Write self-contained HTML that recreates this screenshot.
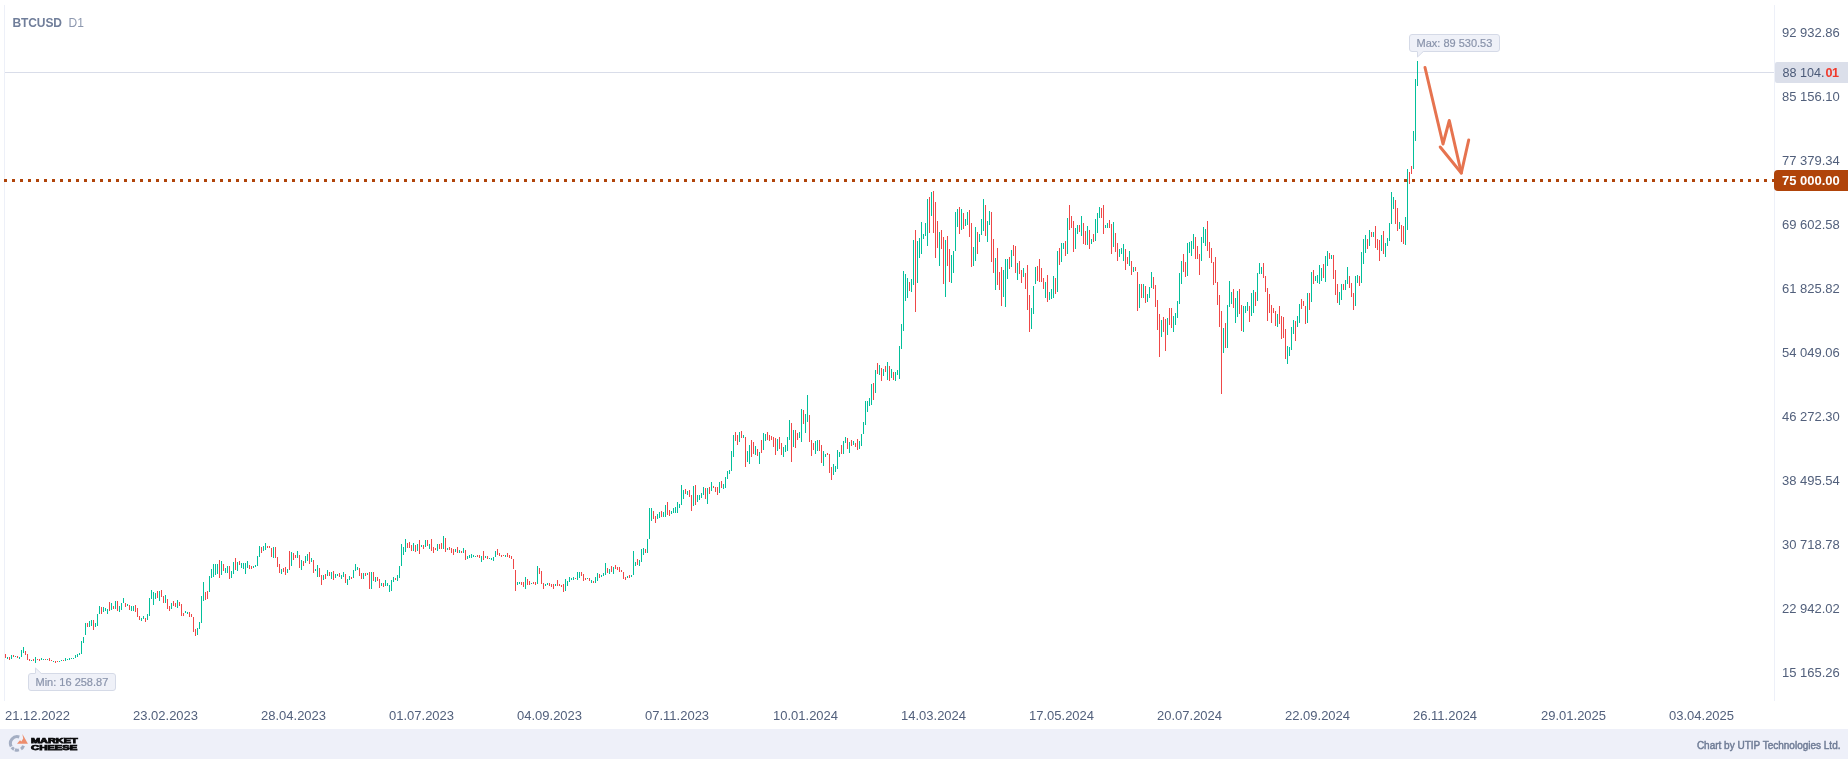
<!DOCTYPE html>
<html><head><meta charset="utf-8"><title>BTCUSD D1</title>
<style>
html,body{margin:0;padding:0;background:#fff;}
body{width:1848px;height:759px;position:relative;overflow:hidden;font-family:"Liberation Sans",sans-serif;}
.abs{position:absolute;}
.yl{position:absolute;left:1782px;width:66px;height:16px;line-height:16px;font-size:13px;color:#52607c;white-space:nowrap;}
.xl{position:absolute;top:708px;height:16px;line-height:16px;font-size:13px;color:#52607c;white-space:nowrap;}
.lg{font-weight:bold;font-size:6.8px;line-height:8px;height:8px;color:#0c0c0e;transform-origin:0 0;white-space:nowrap;-webkit-text-stroke:0.75px #0c0c0e;}
.tip{position:absolute;box-sizing:border-box;height:18px;border:1px solid #d5dae7;border-radius:3px;background:#eff1f8;color:#8a94ab;-webkit-text-stroke:0.2px #8a94ab;font-size:11px;line-height:16px;padding:0 6.5px;white-space:nowrap;}
</style></head><body><div id="root" style="position:absolute;left:0;top:0;width:1848px;height:759px;will-change:transform;">
<!-- axes borders -->
<div class="abs" style="left:4px;top:5px;width:1px;height:696px;background:#edf0f8"></div>
<div class="abs" style="left:1774px;top:5px;width:1px;height:696px;background:#edf0f8"></div>
<!-- current price line -->
<div class="abs" style="left:5px;top:72px;width:1769px;height:1px;background:#d9dde9"></div>
<!-- title -->
<div class="abs" style="left:12.5px;top:15px;height:16px;line-height:16px;font-size:12px;white-space:nowrap;"><span style="font-weight:bold;color:#707e9a;letter-spacing:-0.1px">BTCUSD</span><span style="color:#8d98af;margin-left:6.7px">D1</span></div>
<!-- chart svg -->
<svg class="abs" style="left:0;top:0" width="1848" height="759" viewBox="0 0 1848 759" shape-rendering="crispEdges">
<path d="M7.5 657v2M11.5 655v4M15.5 656v1M19.5 657v2M21.5 650v7M23.5 647v6M31.5 660v1M35.5 657v6M41.5 658v2M43.5 659v1M47.5 659v1M53.5 661v1M59.5 661v1M61.5 660v1M65.5 658v3M67.5 659v1M69.5 658v2M71.5 658v1M73.5 658v1M75.5 655v3M77.5 654v3M79.5 653v2M81.5 641v13M83.5 637v6M85.5 623v12M89.5 621v6M91.5 620v6M95.5 623v4M97.5 614v12M99.5 606v8M103.5 607v5M105.5 608v3M107.5 609v5M111.5 603v7M115.5 601v8M119.5 606v6M121.5 603v7M123.5 598v5M127.5 604v2M131.5 606v5M133.5 606v5M141.5 618v3M143.5 616v3M147.5 614v6M149.5 598v18M151.5 590v9M153.5 592v13M155.5 593v6M159.5 591v10M165.5 595v8M171.5 603v6M177.5 600v8M185.5 611v2M187.5 612v2M197.5 628v7M199.5 622v7M201.5 596v27M203.5 582v19M209.5 576v16M211.5 569v9M213.5 564v13M215.5 564v11M217.5 564v10M221.5 561v14M225.5 568v5M227.5 566v7M231.5 571v7M233.5 562v12M237.5 562v9M241.5 563v5M243.5 563v6M245.5 563v11M247.5 561v7M253.5 566v2M255.5 565v2M257.5 556v10M259.5 546v11M263.5 546v5M265.5 543v7M273.5 547v11M281.5 569v5M287.5 569v4M291.5 552v14M297.5 551v7M301.5 560v10M305.5 556v7M307.5 554v7M311.5 558v4M315.5 569v2M317.5 565v12M323.5 575v5M327.5 570v6M331.5 572v7M335.5 574v4M337.5 574v2M341.5 575v4M343.5 572v5M347.5 579v6M349.5 576v4M353.5 570v8M355.5 564v7M357.5 567v3M363.5 573v6M367.5 573v2M371.5 572v17M375.5 577v5M381.5 583v3M385.5 580v6M387.5 583v3M389.5 585v7M391.5 580v11M393.5 577v5M397.5 575v6M399.5 566v12M401.5 544v22M403.5 547v8M405.5 539v13M413.5 543v8M417.5 544v7M421.5 545v2M425.5 540v7M429.5 544v5M437.5 544v7M443.5 536v13M447.5 548v2M455.5 549v3M459.5 550v3M463.5 548v5M467.5 556v3M469.5 555v3M471.5 554v4M473.5 555v2M475.5 556v1M481.5 556v6M485.5 556v2M489.5 558v1M491.5 558v2M493.5 557v4M495.5 551v6M505.5 555v2M517.5 582v3M519.5 582v2M525.5 577v12M531.5 583v1M537.5 566v18M545.5 584v2M547.5 583v2M555.5 584v2M565.5 579v12M567.5 581v5M569.5 577v5M571.5 578v2M573.5 577v3M577.5 572v8M579.5 572v6M587.5 578v1M591.5 580v3M595.5 577v6M597.5 573v8M601.5 575v2M603.5 573v3M605.5 563v12M609.5 569v5M613.5 567v7M627.5 576v2M631.5 575v2M633.5 551v24M635.5 562v4M639.5 560v6M641.5 549v13M643.5 548v7M647.5 539v14M649.5 508v31M651.5 508v13M657.5 514v5M659.5 512v6M663.5 512v5M665.5 505v12M671.5 511v3M673.5 508v5M675.5 507v6M677.5 502v11M679.5 504v4M681.5 485v20M683.5 490v9M687.5 491v4M693.5 486v20M697.5 495v7M699.5 495v5M701.5 493v5M703.5 487v8M707.5 488v16M711.5 482v9M719.5 482v11M723.5 484v5M725.5 477v11M727.5 471v8M729.5 470v4M731.5 451v20M733.5 435v22M739.5 432v10M743.5 435v3M747.5 451v11M749.5 445v19M755.5 446v9M759.5 452v12M763.5 433v17M765.5 434v7M777.5 439v12M783.5 447v10M785.5 445v7M787.5 437v14M789.5 420v20M793.5 430v17M799.5 432v6M801.5 409v33M805.5 414v19M807.5 395v27M815.5 441v13M817.5 440v11M823.5 451v15M825.5 454v3M833.5 464v11M835.5 466v6M837.5 450v19M839.5 452v5M843.5 441v13M845.5 437v6M849.5 442v11M853.5 441v4M859.5 441v8M861.5 434v12M863.5 422v12M865.5 401v24M867.5 401v11M869.5 398v8M871.5 384v21M875.5 370v23M879.5 365v10M883.5 369v7M887.5 362v18M891.5 369v9M895.5 372v9M897.5 370v5M899.5 346v33M901.5 324v25M903.5 271v60M905.5 274v27M907.5 278v20M911.5 279v13M913.5 240v45M917.5 241v42M919.5 238v20M921.5 222v32M923.5 234v5M925.5 223v13M927.5 199v47M931.5 192v24M939.5 232v34M945.5 240v57M951.5 255v28M953.5 251v22M955.5 212v39M957.5 209v18M961.5 209v21M965.5 219v7M967.5 212v13M973.5 247v19M975.5 227v34M979.5 234v8M981.5 219v16M983.5 199v32M987.5 221v21M989.5 211v14M995.5 258v32M1003.5 270v27M1005.5 259v48M1007.5 259v20M1011.5 250v17M1017.5 263v17M1023.5 268v9M1031.5 308v21M1033.5 286v28M1035.5 267v17M1045.5 282v16M1049.5 292v8M1051.5 289v10M1053.5 276v22M1057.5 251v41M1061.5 243v19M1063.5 243v6M1067.5 218v36M1075.5 228v21M1077.5 225v9M1081.5 216v20M1087.5 226v19M1091.5 239v5M1095.5 219v22M1097.5 213v20M1099.5 207v11M1105.5 225v3M1107.5 223v5M1113.5 222v25M1119.5 249v8M1121.5 248v6M1123.5 244v17M1129.5 251v15M1133.5 267v5M1139.5 284v24M1143.5 284v14M1147.5 294v8M1149.5 287v11M1151.5 272v16M1161.5 320v17M1167.5 318v17M1173.5 316v16M1175.5 313v12M1177.5 301v17M1179.5 273v31M1181.5 261v23M1187.5 243v33M1189.5 242v11M1191.5 241v15M1193.5 234v15M1201.5 237v24M1203.5 227v16M1205.5 229v17M1223.5 328v25M1227.5 305v43M1229.5 281v26M1231.5 292v12M1235.5 298v25M1237.5 291v26M1243.5 306v26M1245.5 306v7M1247.5 302v9M1251.5 293v23M1253.5 290v23M1257.5 273v28M1259.5 263v11M1261.5 267v7M1277.5 314v13M1287.5 346v18M1289.5 347v9M1291.5 327v23M1293.5 320v14M1297.5 316v11M1299.5 304v19M1307.5 293v30M1311.5 272v30M1315.5 276v5M1317.5 275v8M1319.5 265v19M1321.5 268v13M1325.5 256v26M1327.5 251v15M1331.5 255v4M1339.5 292v13M1341.5 284v16M1345.5 280v10M1347.5 267v17M1355.5 276v30M1357.5 275v8M1361.5 252v31M1363.5 239v25M1365.5 235v18M1369.5 230v16M1373.5 232v5M1381.5 235v16M1385.5 243v14M1387.5 238v8M1389.5 223v18M1391.5 192v32M1393.5 197v12M1399.5 222v7M1405.5 217v28M1407.5 169v61M1413.5 131v38M1415.5 79v62M1417.5 61v25" stroke="#02bf9a" stroke-width="1" fill="none"/>
<path d="M5.5 654v4M9.5 657v3M13.5 655v2M17.5 656v2M25.5 651v4M27.5 654v6M29.5 659v2M33.5 659v2M37.5 659v1M39.5 659v2M45.5 659v1M49.5 658v3M51.5 660v1M55.5 661v2M57.5 661v1M63.5 660v1M87.5 623v4M93.5 620v10M101.5 607v7M109.5 602v9M113.5 606v3M117.5 601v10M125.5 603v4M129.5 605v5M135.5 605v7M137.5 608v9M139.5 616v4M145.5 618v4M157.5 591v7M161.5 590v7M163.5 596v7M167.5 599v10M169.5 606v5M173.5 601v5M175.5 603v4M179.5 602v4M181.5 604v12M183.5 613v3M189.5 612v5M191.5 614v3M193.5 617v15M195.5 629v7M205.5 592v8M207.5 591v8M219.5 560v18M223.5 564v7M229.5 566v13M235.5 558v12M239.5 561v4M249.5 565v4M251.5 566v3M261.5 547v6M267.5 546v2M269.5 546v2M271.5 548v9M275.5 547v11M277.5 557v10M279.5 564v9M283.5 568v4M285.5 567v8M289.5 551v19M293.5 553v7M295.5 555v3M299.5 555v13M303.5 561v5M309.5 552v12M313.5 560v13M319.5 568v9M321.5 575v10M325.5 574v5M329.5 572v4M333.5 571v9M339.5 573v4M345.5 574v9M351.5 577v2M359.5 568v8M361.5 573v6M365.5 573v3M369.5 572v17M373.5 572v9M377.5 577v4M379.5 579v9M383.5 583v4M395.5 578v2M407.5 543v5M409.5 542v6M411.5 545v6M415.5 545v7M419.5 540v14M423.5 545v4M427.5 540v6M431.5 539v12M433.5 547v6M435.5 548v2M439.5 544v5M441.5 543v6M445.5 538v14M449.5 547v3M451.5 548v5M453.5 549v6M457.5 547v6M461.5 551v2M465.5 550v10M477.5 555v2M479.5 555v3M483.5 551v9M487.5 556v3M497.5 549v6M499.5 553v3M501.5 555v2M503.5 555v1M507.5 553v4M509.5 555v3M511.5 556v3M513.5 559v10M515.5 570v21M521.5 582v3M523.5 582v5M527.5 579v6M529.5 581v4M533.5 582v2M535.5 582v3M539.5 568v6M541.5 571v13M543.5 583v6M549.5 583v3M551.5 584v3M553.5 584v5M557.5 580v6M559.5 584v2M561.5 585v2M563.5 584v8M575.5 578v1M581.5 572v4M583.5 574v7M585.5 578v2M589.5 578v3M593.5 581v2M599.5 574v4M607.5 568v5M611.5 566v6M615.5 565v4M617.5 567v3M619.5 567v5M621.5 570v2M623.5 572v7M625.5 577v3M629.5 575v3M637.5 559v6M645.5 549v4M653.5 511v8M655.5 516v7M661.5 511v6M667.5 502v13M669.5 510v6M685.5 489v5M689.5 490v7M691.5 495v16M695.5 485v20M705.5 488v11M709.5 487v7M713.5 486v2M715.5 487v5M717.5 487v8M721.5 481v7M735.5 432v9M737.5 435v10M741.5 431v7M745.5 437v30M751.5 440v17M753.5 442v12M757.5 449v7M761.5 440v13M767.5 432v8M769.5 435v6M771.5 436v4M773.5 437v10M775.5 438v17M779.5 437v12M781.5 443v12M791.5 423v39M795.5 430v18M797.5 433v7M803.5 410v14M809.5 415v27M811.5 440v16M813.5 443v7M819.5 440v11M821.5 445v18M827.5 453v2M829.5 454v19M831.5 467v13M841.5 445v9M847.5 438v11M851.5 440v6M855.5 443v4M857.5 439v11M873.5 383v17M877.5 363v11M881.5 368v13M885.5 366v6M889.5 366v15M893.5 372v8M909.5 282v9M915.5 230v82M929.5 197v36M933.5 191v42M935.5 202v56M937.5 221v27M941.5 230v19M943.5 237v47M947.5 236v30M949.5 249v33M959.5 207v27M963.5 213v16M969.5 210v27M971.5 223v44M977.5 232v22M985.5 205v31M991.5 212v50M993.5 239v34M997.5 248v37M999.5 272v18M1001.5 267v39M1009.5 257v12M1013.5 245v11M1015.5 246v27M1019.5 261v13M1021.5 270v13M1025.5 273v16M1027.5 265v45M1029.5 295v37M1037.5 266v15M1039.5 259v23M1041.5 268v14M1043.5 278v11M1047.5 275v27M1055.5 278v16M1059.5 248v17M1065.5 241v15M1069.5 205v25M1071.5 216v12M1073.5 221v31M1079.5 225v7M1083.5 223v21M1085.5 231v14M1089.5 230v19M1093.5 234v8M1101.5 208v10M1103.5 205v29M1109.5 220v8M1111.5 224v30M1115.5 233v19M1117.5 243v18M1125.5 249v21M1127.5 257v7M1131.5 261v14M1135.5 267v4M1137.5 272v39M1141.5 284v14M1145.5 286v17M1153.5 277v12M1155.5 285v22M1157.5 300v30M1159.5 314v43M1163.5 317v15M1165.5 319v32M1169.5 308v17M1171.5 308v20M1183.5 254v18M1185.5 262v15M1195.5 237v22M1197.5 246v13M1199.5 254v21M1207.5 221v30M1209.5 242v16M1211.5 248v15M1213.5 262v23M1215.5 257v26M1217.5 282v23M1219.5 295v32M1221.5 311v83M1225.5 323v25M1233.5 289v19M1239.5 289v25M1241.5 305v26M1249.5 306v16M1255.5 292v14M1263.5 263v15M1265.5 276v16M1267.5 288v33M1269.5 294v19M1271.5 305v18M1273.5 308v5M1275.5 311v15M1279.5 306v18M1281.5 316v23M1283.5 317v21M1285.5 329v30M1295.5 321v20M1301.5 299v10M1303.5 301v5M1305.5 306v18M1309.5 293v17M1313.5 270v14M1323.5 264v14M1329.5 253v6M1333.5 255v24M1335.5 270v25M1337.5 284v19M1343.5 284v6M1349.5 276v12M1351.5 283v14M1353.5 293v17M1359.5 276v10M1367.5 239v10M1371.5 232v5M1375.5 226v22M1377.5 239v11M1379.5 240v21M1383.5 231v23M1395.5 200v24M1397.5 208v23M1401.5 225v17M1403.5 226v18M1409.5 172v12M1411.5 166v8" stroke="#ef4747" stroke-width="1" fill="none"/>
<path d="M4 180.5H1775" stroke="#b0440a" stroke-width="3" stroke-dasharray="3 5" fill="none"/>
<g shape-rendering="geometricPrecision" fill="none" stroke="#e6734f" stroke-width="3" stroke-linecap="round" stroke-linejoin="round">
<path d="M1425 67.5L1443 144L1449.3 120.5L1461.3 173"/>
<path d="M1440.2 147L1461.3 173L1468.7 140"/>
</g>
</svg>
<!-- tooltips -->
<div class="tip" style="left:1409px;top:34px;width:91px;">Max: 89 530.53</div>
<svg class="abs" style="left:1416px;top:51px" width="9" height="8" viewBox="0 0 9 8"><path d="M1 0V6.5L7.5 0" fill="#eff1f8"/><path d="M1.5 0.5V6L7 0.8" fill="none" stroke="#d5dae7" stroke-width="1"/></svg>
<div class="tip" style="left:28px;top:673px;width:88px;">Min: 16 258.87</div>
<svg class="abs" style="left:34px;top:666px" width="9" height="8" viewBox="0 0 9 8"><path d="M1 8V1.5L7.5 8" fill="#eff1f8"/><path d="M1.5 7.5V2L7 7.2" fill="none" stroke="#d5dae7" stroke-width="1"/></svg>
<!-- y labels -->
<div class="yl" style="top:25px">92 932.86</div><div class="yl" style="top:89px">85 156.10</div><div class="yl" style="top:153px">77 379.34</div><div class="yl" style="top:217px">69 602.58</div><div class="yl" style="top:281px">61 825.82</div><div class="yl" style="top:345px">54 049.06</div><div class="yl" style="top:409px">46 272.30</div><div class="yl" style="top:473px">38 495.54</div><div class="yl" style="top:537px">30 718.78</div><div class="yl" style="top:601px">22 942.02</div><div class="yl" style="top:665px">15 165.26</div>
<!-- price badges -->
<div class="abs" style="left:1775px;top:62px;width:73px;height:21px;background:#dbdfea;border-radius:2px 0 0 2px;"></div>
<div class="abs" style="left:1782.4px;top:65px;height:16px;line-height:16px;font-size:12.6px;color:#4b5a78;white-space:nowrap;">88 104.<span style="color:#f0392b;font-weight:bold;letter-spacing:-0.7px;margin-left:1.2px">01</span></div>
<div class="abs" style="left:1774px;top:170px;width:74px;height:21px;background:#b0440a;border-radius:4px 0 0 4px;"></div>
<div class="abs" style="left:1782px;top:173px;height:16px;line-height:16px;font-size:13px;font-weight:bold;color:#fff;white-space:nowrap;">75 000.00</div>
<!-- x labels -->
<div class="xl" style="left:5px">21.12.2022</div><div class="xl" style="left:133px">23.02.2023</div><div class="xl" style="left:261px">28.04.2023</div><div class="xl" style="left:389px">01.07.2023</div><div class="xl" style="left:517px">04.09.2023</div><div class="xl" style="left:645px">07.11.2023</div><div class="xl" style="left:773px">10.01.2024</div><div class="xl" style="left:901px">14.03.2024</div><div class="xl" style="left:1029px">17.05.2024</div><div class="xl" style="left:1157px">20.07.2024</div><div class="xl" style="left:1285px">22.09.2024</div><div class="xl" style="left:1413px">26.11.2024</div><div class="xl" style="left:1541px">29.01.2025</div><div class="xl" style="left:1669px">03.04.2025</div>
<!-- footer -->
<div class="abs" style="left:0;top:729px;width:1848px;height:30px;background:#eef0f9"></div>
<div class="abs" id="credit" style="right:7.5px;top:739px;height:14px;line-height:14px;font-size:10px;color:#6f7c96;-webkit-text-stroke:0.45px #6f7c96;white-space:nowrap;">Chart by UTIP Technologies Ltd.</div>
<!-- logo -->
<svg class="abs" style="left:8px;top:733px" width="22" height="20" viewBox="0 0 22 20">
<g fill="none" stroke="#a4aec3" stroke-width="3"><path d="M11.29 3.98A6.75 6.75 0 0 0 3.24 13.57"/><path d="M3.81 14.46A6.75 6.75 0 0 0 6.03 16.36"/><path d="M6.89 16.74A6.75 6.75 0 0 0 10.95 16.92"/><path d="M12.97 16.00A6.75 6.75 0 0 0 15.54 12.71"/></g>
<path d="M14.4 1L19.9 10.7H9L12 7.2L13.4 8.4L15.2 5.6Z" fill="#ec7b55" opacity="0.85"/>
</svg>
<div class="abs lg" style="left:30.5px;top:737px;transform:scaleX(1.607);">MARKET</div>
<div class="abs lg" style="left:30.8px;top:744.4px;transform:scaleX(1.66);">CHEESE</div>
</div></body></html>
